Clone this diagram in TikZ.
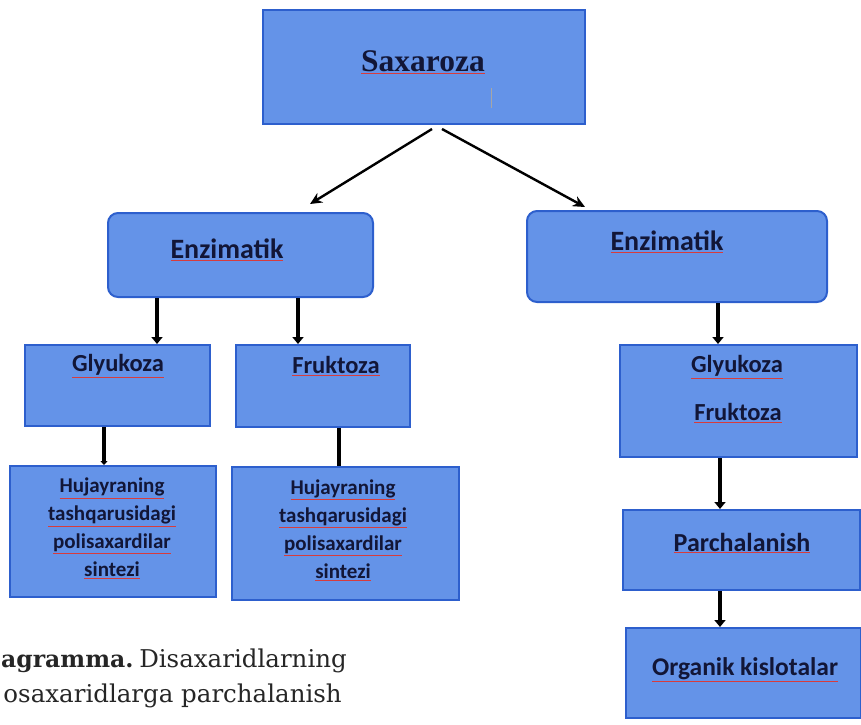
\documentclass[tikz,border=0pt]{standalone}
\usepackage{fontspec}
\setmainfont{Carlito}
\newfontfamily\capfont{DejaVu Serif}
\newfontfamily\timesfont{Liberation Serif}
\usetikzlibrary{calc,arrows.meta}
\definecolor{boxfill}{RGB}{100,147,232}
\definecolor{boxline}{RGB}{45,95,205}
\definecolor{txt}{RGB}{18,22,55}
\definecolor{spell}{RGB}{215,60,60}
\newcommand{\sq}[1]{{\color{spell}$\underline{\hbox{\color{txt}#1}}$}}
\tikzset{
  box/.style={draw=boxline, fill=boxfill, line width=2pt, inner sep=0pt},
  rbox/.style={box, rounded corners=10pt},
  lbl/.style={text=txt, font=\bfseries\fontsize{26}{28}\selectfont, inner sep=0pt},
  mlbl/.style={text=txt, font=\bfseries\fontsize{24.5}{28}\selectfont, inner sep=0pt},
  slbl/.style={text=txt, font=\bfseries\fontsize{21}{28}\selectfont, inner sep=0pt, align=center},
  thinarrow/.style={line width=2.4pt, -{Stealth[length=12pt,width=11pt]}},
  thickarrow/.style={line width=4.5pt, -{Triangle[length=7pt,width=11pt]}},
  thickline/.style={line width=4pt},
  captxt/.style={inner sep=0pt, text=black!85, font=\capfont\fontsize{24.5}{35}\selectfont},
}
\begin{document}
\begin{tikzpicture}[x=1pt,y=-1pt]
\useasboundingbox (0,0) rectangle (861,724);
% boxes
\node[box, minimum width=322pt, minimum height=114pt] (sax) at (424,67) {};
\node[rbox, minimum width=265pt, minimum height=84pt] (enzL) at (240.5,255) {};
\node[rbox, minimum width=300pt, minimum height=91pt] (enzR) at (677,256.5) {};
\node[box, minimum width=185pt, minimum height=81pt] (gluL) at (117.5,385.5) {};
\node[box, minimum width=174pt, minimum height=82pt] (fruL) at (323,386) {};
\node[box, minimum width=206pt, minimum height=131pt] (hujL) at (113,531.5) {};
\node[box, minimum width=227pt, minimum height=133pt] (hujR) at (345.5,533.5) {};
\node[box, minimum width=237pt, minimum height=112pt] (gfR) at (738.5,401) {};
\node[box, minimum width=237pt, minimum height=80pt] (parR) at (741.5,550) {};
\node[box, minimum width=235pt, minimum height=90pt] (orgR) at (743.5,673) {};
% texts
\node[text=txt, inner sep=0pt, font=\timesfont\bfseries\fontsize{31.5}{32}\selectfont] (tsax) at (423,62) {\sq{Saxaroza}};
\draw[gray!70, line width=1pt] (491,88) coordinate (cur1) -- (491,108) coordinate (cur2);
\node[lbl, font=\bfseries\fontsize{28}{28}\selectfont] (tenzL) at (227,250) {\sq{Enzimatik}};
\node[lbl, font=\bfseries\fontsize{28}{28}\selectfont] (tenzR) at (667,242) {\sq{Enzimatik}};
\node[mlbl] (tgluL) at (118,366) {\sq{Glyukoza}};
\node[mlbl] (tfruL) at (336,366) {\sq{Fruktoza}};
\node[slbl] (thujL) at (112,528.5) {\sq{Hujayraning}\\\sq{tashqarusidagi}\\\sq{polisaxardilar}\\\sq{sintezi}};
\node[slbl] (thujR) at (343,530) {\sq{Hujayraning}\\\sq{tashqarusidagi}\\\sq{polisaxardilar}\\\sq{sintezi}};
\node[mlbl] (tgR) at (737,367) {\sq{Glyukoza}};
\node[mlbl] (tfR) at (738,413) {\sq{Fruktoza}};
\node[lbl] (tparR) at (742,543) {\sq{Parchalanish}};
\node[lbl, font=\bfseries\fontsize{25.5}{28}\selectfont] (torgR) at (745,670) {\sq{Organik kislotalar}};
% connectors
\draw[thinarrow] ($(sax.south)+(8,4)$) -- ($(enzL.north)+(69.5,-8)$);
\draw[thinarrow] ($(sax.south)+(18,4)$) -- ($(enzR.north)+(-92,-3)$);
\draw[thickarrow] ($(enzL.south)+(-83.5,0)$) -- ($(gluL.north)+(39.5,0)$);
\draw[thickarrow] ($(enzL.south)+(57.5,0)$) -- ($(fruL.north)+(-25,0)$);
\draw[thickarrow] ($(enzR.south)+(41,0)$) -- ($(gfR.north)+(-20.5,0)$);
\draw[thickline, -{Triangle[length=4pt,width=7pt]}] ($(gluL.south)+(-13.5,0)$) -- ($(hujL.north)+(-9,0)$);
\draw[thickline] ($(fruL.south)+(16,0)$) -- ($(hujR.north)+(-6.5,0)$);
\draw[thickarrow] ($(gfR.south)+(-18.5,0)$) -- ($(parR.north)+(-21.5,0)$);
\draw[thickarrow] ($(parR.south)+(-21.5,0)$) -- ($(orgR.north)+(-23.5,0)$);
% caption (as visible in the reference)
\node[captxt, anchor=base west, font=\capfont\bfseries\fontsize{23.5}{35}\selectfont] (cap1a) at (1,667) {agramma.};
\node[captxt, anchor=base east] (cap1b) at (347,667) {Disaxaridlarning};
\node[captxt, anchor=base east] (cap2) at (342,702) {osaxaridlarga parchalanish};
\end{tikzpicture}
\end{document}
